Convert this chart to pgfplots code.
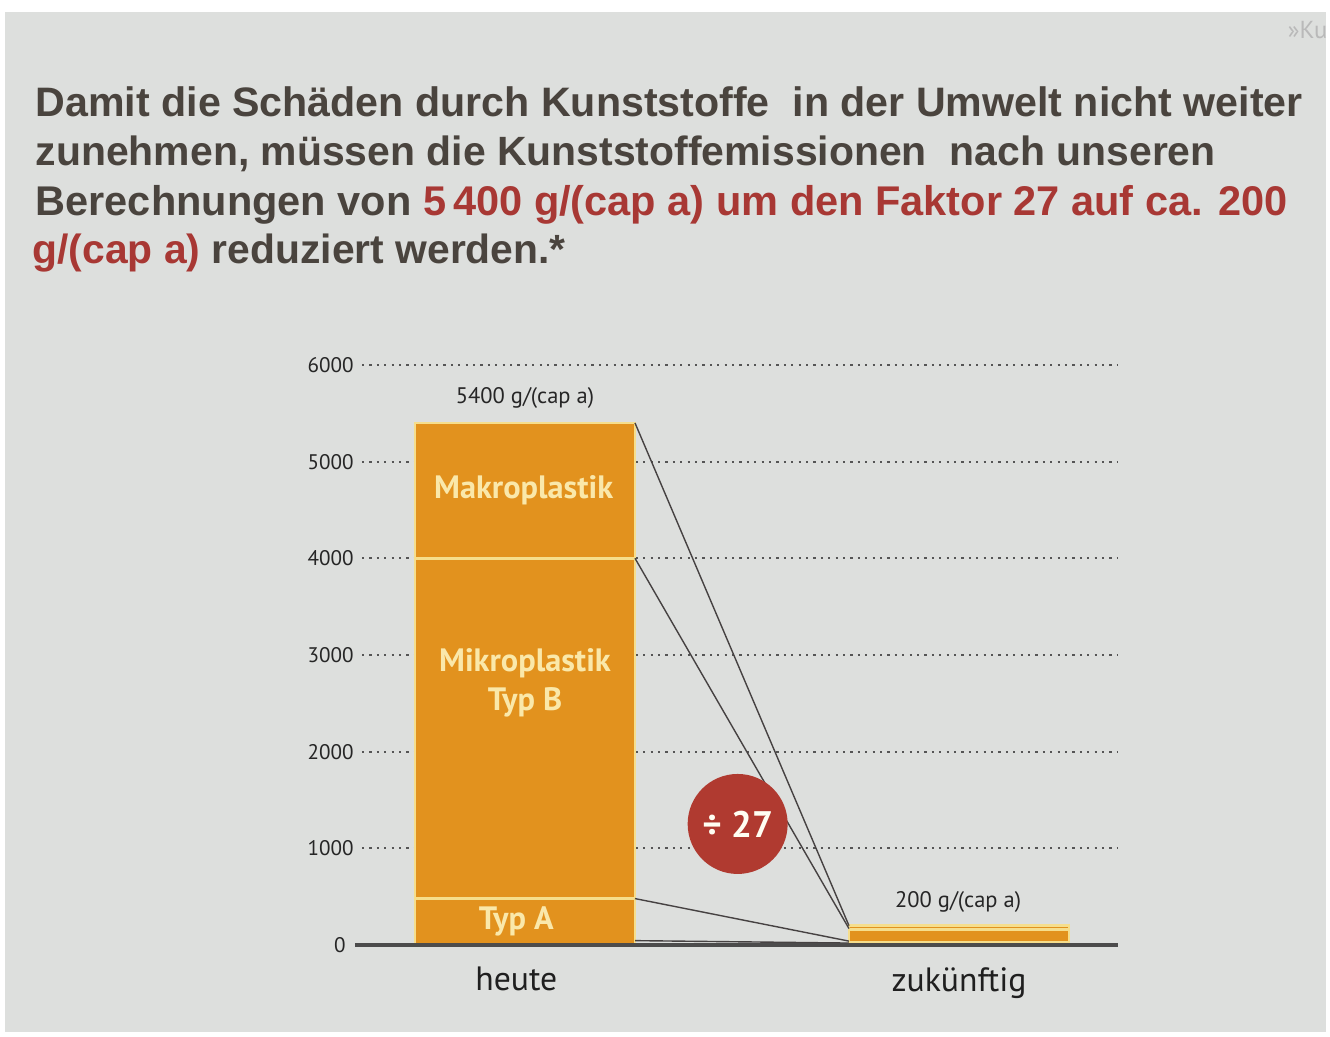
\documentclass[border=0pt]{standalone}
\usepackage{pgfplots}
\pgfplotsset{compat=1.18}
\usepackage{fontspec}
\setmainfont{Liberation Sans}
\newfontfamily\chartfont{PT Sans}
\definecolor{bgc}{RGB}{221,223,221}
\definecolor{titlec}{RGB}{74,68,62}
\definecolor{redc}{RGB}{168,56,52}
\definecolor{barc}{RGB}{226,146,30}
\definecolor{sepc}{RGB}{246,222,140}
\definecolor{labc}{RGB}{250,232,170}
\definecolor{circc}{RGB}{176,58,48}
\definecolor{gridc}{RGB}{85,85,85}
\definecolor{linec}{RGB}{70,66,66}

\pgfplotstableread{
x  typA  mikroB  makro
0  480   3520    1400
1  30    130     40
}\datatable

\pgfplotsset{
  chartgeom/.style={
    at={(36.2mm,9.2mm)}, anchor=south west,
    width=75.6mm, height=58mm, scale only axis,
    xmin=-0.3756, xmax=1.3664, ymin=0, ymax=6000,
    clip=false,
  }
}

\begin{document}
\begin{tikzpicture}
\useasboundingbox (0,0) rectangle (133mm,103.7mm);
\fill[white] (0,0) rectangle (133mm,103.7mm);
\fill[bgc] (0.5mm,0.5mm) rectangle (132.6mm,102.5mm);
\node[anchor=base east, text=gray!55, font=\chartfont\fontsize{7}{8}\selectfont, inner sep=0] at (132.8mm,99.8mm) {»Ku};
% title
\node[anchor=base west, inner sep=0, text=titlec] at (3.5mm,92.0mm)
  {\resizebox{126.7mm}{!}{\bfseries Damit die Schäden durch Kunststoffe\ \ in der Umwelt nicht weiter}};
\node[anchor=base west, inner sep=0, text=titlec] at (3.5mm,87.1mm)
  {\resizebox{118.0mm}{!}{\bfseries zunehmen, müssen die Kunststoffemissionen\ \ nach unseren}};
\node[anchor=base west, inner sep=0, text=titlec] at (3.5mm,82.1mm)
  {\resizebox{125.2mm}{!}{\bfseries Berechnungen von \textcolor{redc}{5\,400 g/(cap a) um den Faktor 27 auf ca. 200}}};
\node[anchor=base west, inner sep=0, text=titlec] at (3.2mm,77.3mm)
  {\resizebox{53.3mm}{!}{\bfseries \textcolor{redc}{g/(cap a)} reduziert werden.*}};

% axis 1: grid, ticks, stacked bars
\begin{axis}[
  chartgeom,
  axis line style={draw=none},
  xtick=\empty,
  ytick={1000,2000,3000,4000,5000,6000},
  extra y ticks={0},
  extra y tick style={grid=none, yticklabel style={xshift=-0.8mm}},
  yticklabel style={font=\chartfont\fontsize{6}{7}\selectfont, text=black!85, xshift=0.4mm},
  /pgf/number format/assume math mode=true,
  /pgf/number format/1000 sep={},
  major tick length=0pt,
  ymajorgrids,
  grid style={gridc, line width=0.22mm, dash pattern=on 0.22mm off 0.52mm},
  ybar stacked, bar width=0.507,
]
\addplot[fill=barc, draw=sepc, line width=0.25mm] table[x=x, y=typA] {\datatable};
\addplot[fill=barc, draw=sepc, line width=0.25mm] table[x=x, y=mikroB] {\datatable};
\addplot[fill=barc, draw=sepc, line width=0.25mm] table[x=x, y=makro] {\datatable};
\end{axis}

% axis 2: connectors, zero line, labels, circle
\begin{axis}[
  chartgeom,
  hide axis,
]
\addplot[sharp plot, no marks, linec, line width=0.14mm] coordinates {(0.2535,5400) (0.7465,200)};
\addplot[sharp plot, no marks, linec, line width=0.14mm] coordinates {(0.2535,4000) (0.7465,170)};
\addplot[sharp plot, no marks, linec, line width=0.14mm] coordinates {(0.2535,480) (0.7465,40)};
\addplot[sharp plot, no marks, linec, line width=0.14mm] coordinates {(0.2535,45) (0.7465,20)};
\addplot[sharp plot, no marks, gridc!90!black, line width=0.4mm] coordinates {(-0.392,0) (1.3664,0)};

\node[font=\chartfont\bfseries\fontsize{9.2}{11}\selectfont, text=labc] at (axis cs:-0.003,4707) {Makroplastik};
\node[font=\chartfont\bfseries\fontsize{9.2}{11.2}\selectfont, text=labc, align=center] at (axis cs:0.0,2710) {Mikroplastik\\Typ B};
\node[font=\chartfont\bfseries\fontsize{9.2}{11}\selectfont, text=labc] at (axis cs:-0.02,248) {Typ A};
\node[font=\chartfont\fontsize{6.4}{8}\selectfont, text=black!85] at (axis cs:0.0,5658) {5400 g/(cap a)};
\node[font=\chartfont\fontsize{6.4}{8}\selectfont, text=black!85] at (axis cs:0.998,445) {200 g/(cap a)};
\node[font=\chartfont\fontsize{9.6}{11}\selectfont, text=black!88] at (axis cs:-0.02,-352) {heute};
\node[font=\chartfont\fontsize{9.6}{11}\selectfont, text=black!88] at (axis cs:1.0,-393) {zukünftig};
\node[circle, fill=circc, minimum size=10mm, inner sep=0, text=white!95!yellow,
      font=\chartfont\bfseries\fontsize{10.5}{12}\selectfont] at (axis cs:0.49,1252) {÷ 27};
\end{axis}
\end{tikzpicture}
\end{document}
